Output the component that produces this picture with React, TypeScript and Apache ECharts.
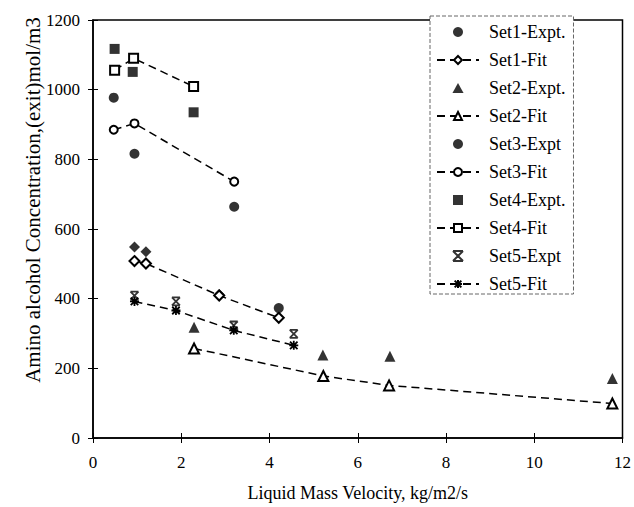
import React, { useEffect, useRef } from "react";
import * as echarts from "echarts";

const FONT = "Liberation Serif";

const set1ExptX = [0.94, 1.2, 2.86, 4.21];
const set1ExptY = [548, 535, 412, 373];
const set1ExptShape = ["diamond", "diamond", "diamond", "circle"];
const set1FitX = [0.94, 1.2, 2.86, 4.21];
const set1FitY = [508, 501, 409, 345];

const set2ExptX = [2.29, 5.21, 6.73, 11.77];
const set2ExptY = [318, 238, 235, 171];
const set2FitX = [2.29, 5.22, 6.71, 11.77];
const set2FitY = [257, 178, 151, 99];

const set3ExptX = [0.47, 0.94, 3.2];
const set3ExptY = [977, 816, 664];
const set3FitX = [0.47, 0.94, 3.2];
const set3FitY = [885, 903, 736];

const set4ExptX = [0.49, 0.9, 2.28];
const set4ExptY = [1117, 1051, 935];
const set4FitX = [0.49, 0.92, 2.28];
const set4FitY = [1056, 1090, 1009];

const set5ExptX = [0.94, 1.88, 3.19, 4.55];
const set5ExptY = [409, 392, 323, 299];
const set5FitX = [0.94, 1.88, 3.19, 4.55];
const set5FitY = [392, 366, 309, 266];

const xTicks = { min: 0, max: 12, interval: 2 };
const yTicks = { min: 0, max: 1200, interval: 200 };

const xTitle = "Liquid Mass Velocity, kg/m2/s";
const yTitle = "Amino alcohol Concentration,(exit)mol/m3";

const seriesNames = [
  "Set1-Expt.",
  "Set1-Fit",
  "Set2-Expt.",
  "Set2-Fit",
  "Set3-Expt",
  "Set3-Fit",
  "Set4-Expt.",
  "Set4-Fit",
  "Set5-Expt",
  "Set5-Fit",
];

const HOURGLASS = "path://M0 0 L10 0 M0 10 L10 10 M0 0 L10 10 M10 0 L0 10";
const ASTERISK = "path://M0 0 L10 10 M10 0 L0 10 M5 -1 L5 11 M-1 5 L11 5";
const TRI_ICON = "path://M5 0 L10 9 L0 9 Z";
const RECT_ICON = "path://M0 0 L10 0 L10 10 L0 10 Z";

const zip = (xs: number[], ys: number[]) => xs.map((x, i) => [x, ys[i]]);

const dash = [8, 5];

function expt(name: string, xs: number[], ys: number[], symbol: string, size: number, extra: any = {}) {
  return {
    name,
    type: "scatter",
    symbol,
    symbolSize: size,
    symbolKeepAspect: true,
    itemStyle: { color: "#000", ...extra },
    data: zip(xs, ys),
    z: 3,
  };
}

function fit(name: string, xs: number[], ys: number[], symbol: string, size: number, extra: any = {}) {
  return {
    name,
    type: "line",
    symbol,
    symbolSize: size,
    symbolKeepAspect: true,
    showSymbol: true,
    itemStyle: { color: "#000", borderWidth: 1.5, ...extra },
    lineStyle: { color: "#000", width: 1.5, type: dash },
    data: zip(xs, ys),
    z: 3,
  };
}

export default function App() {
  const ref = useRef<HTMLDivElement>(null);
  useEffect(() => {
    if (!ref.current) return;
    const chart = echarts.init(ref.current, null, { renderer: "svg" });
    const axisLine = { show: true, lineStyle: { color: "#000", width: 1.5 } };
    const labelStyle = { color: "#000", fontFamily: FONT, fontSize: 17 };
    const set1Expt = {
      name: seriesNames[0],
      type: "scatter",
      symbol: "circle",
      symbolSize: 10,
      itemStyle: { color: "#000" },
      data: set1ExptX.map((x, i) => ({
        value: [x, set1ExptY[i]],
        symbol: set1ExptShape[i],
        symbolSize: set1ExptShape[i] === "diamond" ? 11 : 10,
      })),
      z: 3,
    };
    chart.setOption({
      animation: false,
      backgroundColor: "#fff",
      grid: {
        left: 93,
        right: 8,
        top: 20,
        bottom: 65,
        show: true,
        borderColor: "#000",
        borderWidth: 1.5,
      },
      legend: {
        orient: "vertical",
        left: 430,
        top: 16,
        padding: [7, 8, 1, 6],
        itemWidth: 42,
        itemHeight: 10,
        itemGap: 10,
        symbolKeepAspect: true,
        backgroundColor: "#fff",
        borderColor: "#666",
        borderWidth: 1,
        borderType: "dashed",
        textStyle: { color: "#000", fontFamily: FONT, fontSize: 18, lineHeight: 18, padding: [0, 0, 0, 5] },
        data: seriesNames.map((n) =>
          n === "Set2-Expt." ? { name: n, icon: TRI_ICON } : n === "Set4-Expt." ? { name: n, icon: RECT_ICON } : n
        ),
        z: 10,
      },
      xAxis: [
        {
          type: "value",
          ...xTicks,
          position: "bottom",
          axisLine,
          axisTick: { show: true, length: 5, lineStyle: { color: "#000", width: 1 } },
          axisLabel: { ...labelStyle, margin: 16 },
          splitLine: { show: false },
          name: xTitle,
          nameLocation: "middle",
          nameGap: 46,
          nameTextStyle: { color: "#000", fontFamily: FONT, fontSize: 18 },
        },
        {
          type: "value",
          ...xTicks,
          position: "bottom",
          axisLine: { show: false },
          axisTick: { show: true, inside: true, length: 5, lineStyle: { color: "#000", width: 1 } },
          axisLabel: { show: false },
          splitLine: { show: false },
        },
      ],
      yAxis: [
        {
          type: "value",
          ...yTicks,
          position: "left",
          axisLine,
          axisTick: { show: true, length: 5, lineStyle: { color: "#000", width: 1 } },
          axisLabel: { ...labelStyle, margin: 13, formatter: (v: number) => String(v) },
          splitLine: { show: false },
        },
        {
          type: "value",
          ...yTicks,
          position: "left",
          offset: 0,
          axisLine: { show: false },
          axisTick: { show: true, inside: true, length: 5, lineStyle: { color: "#000", width: 1 } },
          axisLabel: { show: false },
          splitLine: { show: false },
        },
      ],
      graphic: [
        {
          type: "text",
          x: 33,
          y: 200,
          rotation: Math.PI / 2,
          style: {
            text: yTitle,
            fill: "#000",
            font: `21px "${FONT}"`,
            align: "center",
            verticalAlign: "middle",
          },
        },
      ],
      series: [
        set1Expt,
        fit(seriesNames[1], set1FitX, set1FitY, "emptyDiamond", 10),
        expt(seriesNames[2], set2ExptX, set2ExptY, "triangle", 11),
        fit(seriesNames[3], set2FitX, set2FitY, "emptyTriangle", 10),
        expt(seriesNames[4], set3ExptX, set3ExptY, "circle", 10),
        fit(seriesNames[5], set3FitX, set3FitY, "emptyCircle", 8),
        expt(seriesNames[6], set4ExptX, set4ExptY, "rect", 10),
        fit(seriesNames[7], set4FitX, set4FitY, "emptyRect", 9),
        expt(seriesNames[8], set5ExptX, set5ExptY, HOURGLASS, 8, { color: "none", borderColor: "#000", borderWidth: 1.8 }),
        fit(seriesNames[9], set5FitX, set5FitY, ASTERISK, 9, { color: "none", borderColor: "#000", borderWidth: 1.8 }),
      ],
    });
    return () => chart.dispose();
  }, []);
  return (
    <div
      ref={ref}
      style={{ position: "fixed", left: 0, top: 0, width: 634, height: 507, background: "#fff" }}
    />
  );
}
